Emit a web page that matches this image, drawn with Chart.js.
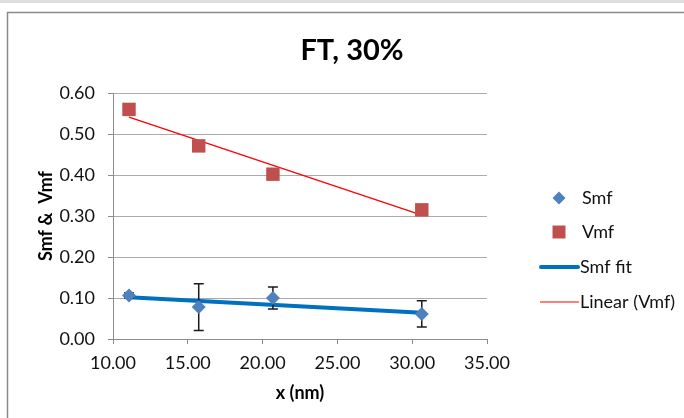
<!DOCTYPE html>
<html>
<head>
<meta charset="utf-8">
<script src="https://cdn.jsdelivr.net/npm/chart.js@4/dist/chart.umd.min.js"></script>
<style>
  html, body { margin: 0; padding: 0; background: #ffffff; }
  #wrap { width: 684px; height: 418px; position: relative; }
</style>
</head>
<body>
<div id="wrap"><canvas id="c" width="684" height="418"></canvas></div>
<script>
// Film thickness x (nm) and measured fractions
const xValues = [11.07, 15.73, 20.69, 30.64];
const smfValues = [0.106, 0.078, 0.100, 0.061];
const smfErrors = [0.006, 0.057, 0.027, 0.032];
const vmfValues = [0.560, 0.471, 0.402, 0.315];

// Straight-line fits, evaluated at the first and last x
const fitX = [11.07, 30.64];
const smfFitValues = [0.102, 0.064];
const vmfFitValues = [0.541, 0.302];

const xTicks = [10, 15, 20, 25, 30, 35];
const yTicks = [0, 0.1, 0.2, 0.3, 0.4, 0.5, 0.6];

const titleText = 'FT, 30%';
const xTitle = 'x (nm)';
const yTitle = 'Smf &  Vmf';
const seriesNames = ['Smf', 'Vmf', 'Smf fit', 'Linear (Vmf)'];

const BLUE = '#4F81BD';
const RED = '#C0504D';
const FIT_BLUE = '#0070C0';
const FIT_RED = '#FF0000';
const GRID = '#ababab';
const AXIS = '#8c8c8c';

Chart.defaults.font.family = 'Lato, "Open Sans", sans-serif';
Chart.defaults.color = '#111111';

const pts = (xs, ys) => xs.map((x, i) => ({ x, y: ys[i] }));

// Frame and grey strip around the chart
const framePlugin = {
  id: 'frame',
  beforeDraw(chart) {
    const ctx = chart.ctx;
    ctx.save();
    ctx.fillStyle = '#ffffff';
    ctx.fillRect(0, 0, chart.width, chart.height);
    ctx.fillStyle = '#dedede';
    ctx.fillRect(0, 0, chart.width, 3);
    ctx.strokeStyle = '#8a8a8a';
    ctx.lineWidth = 1.5;
    ctx.beginPath();
    ctx.moveTo(7.5, chart.height + 2);
    ctx.lineTo(7.5, 12.5);
    ctx.lineTo(chart.width + 2, 12.5);
    ctx.stroke();
    ctx.restore();
  }
};

// Vertical error bars on the Smf series, drawn just under its markers
const errorBarPlugin = {
  id: 'errorBars',
  beforeDatasetDraw(chart, args) {
    if (args.index !== 0) return;
    const ctx = chart.ctx;
    const xs = chart.scales.x, ys = chart.scales.y;
    ctx.save();
    ctx.strokeStyle = '#1a1a1a';
    ctx.lineWidth = 1.5;
    xValues.forEach((xv, i) => {
      const px = xs.getPixelForValue(xv);
      const top = ys.getPixelForValue(smfValues[i] + smfErrors[i]);
      const bot = ys.getPixelForValue(smfValues[i] - smfErrors[i]);
      ctx.beginPath();
      ctx.moveTo(px, top); ctx.lineTo(px, bot);
      ctx.moveTo(px - 5, top); ctx.lineTo(px + 5, top);
      ctx.moveTo(px - 5, bot); ctx.lineTo(px + 5, bot);
      ctx.stroke();
    });
    ctx.restore();
  }
};

// Chart title and the legend on the right
const textPlugin = {
  id: 'texts',
  afterDraw(chart) {
    const ctx = chart.ctx;
    ctx.save();
    ctx.fillStyle = '#000000';
    ctx.font = 'bold 29px Lato, sans-serif';
    ctx.textAlign = 'center';
    ctx.textBaseline = 'alphabetic';
    ctx.fillText(titleText, 352, 60);

    const lx = 559, tx = 582;
    const rows = [198, 232, 267, 302];
    ctx.font = '18px Lato, sans-serif';
    ctx.textAlign = 'left';
    ctx.textBaseline = 'middle';
    // Smf marker
    ctx.fillStyle = BLUE;
    ctx.beginPath();
    ctx.moveTo(lx, rows[0] - 6.5); ctx.lineTo(lx + 6.5, rows[0]);
    ctx.lineTo(lx, rows[0] + 6.5); ctx.lineTo(lx - 6.5, rows[0]);
    ctx.closePath(); ctx.fill();
    // Vmf marker
    ctx.fillStyle = RED;
    ctx.fillRect(lx - 6.5, rows[1] - 6.5, 13, 13);
    // fit lines
    ctx.strokeStyle = FIT_BLUE; ctx.lineWidth = 4; ctx.lineCap = 'round';
    ctx.beginPath(); ctx.moveTo(541, rows[2]); ctx.lineTo(578, rows[2]); ctx.stroke();
    ctx.strokeStyle = '#ff5555'; ctx.lineWidth = 1.5; ctx.lineCap = 'butt';
    ctx.beginPath(); ctx.moveTo(540, rows[3]); ctx.lineTo(579, rows[3]); ctx.stroke();

    ctx.fillStyle = '#111111';
    ctx.fillText(seriesNames[0], tx, rows[0]);
    ctx.fillText(seriesNames[1], tx, rows[1]);
    ctx.fillText(seriesNames[2], 580, rows[2]);
    ctx.fillText(seriesNames[3], 580, rows[3]);
    ctx.restore();
  }
};

new Chart(document.getElementById('c'), {
  type: 'scatter',
  data: {
    datasets: [
      {
        label: seriesNames[0],
        data: pts(xValues, smfValues),
        pointStyle: 'rectRot',
        pointRadius: 7,
        pointHoverRadius: 7,
        backgroundColor: BLUE,
        borderColor: BLUE,
        borderWidth: 0,
        showLine: false
      },
      {
        label: seriesNames[1],
        data: pts(xValues, vmfValues),
        pointStyle: 'rect',
        pointRadius: 9.5,
        pointHoverRadius: 9.5,
        backgroundColor: RED,
        borderColor: RED,
        borderWidth: 0,
        showLine: false
      },
      {
        label: seriesNames[2],
        data: pts(fitX, smfFitValues),
        showLine: true,
        borderColor: FIT_BLUE,
        borderWidth: 4,
        pointRadius: 0,
        pointHoverRadius: 0
      },
      {
        label: seriesNames[3],
        data: pts(fitX, vmfFitValues),
        showLine: true,
        borderColor: FIT_RED,
        borderWidth: 1.3,
        pointRadius: 0,
        pointHoverRadius: 0
      }
    ]
  },
  options: {
    responsive: false,
    animation: false,
    events: [],
    layout: { padding: { left: 35, top: 93, right: 197, bottom: 14 } },
    plugins: {
      legend: { display: false },
      title: { display: false },
      tooltip: { enabled: false }
    },
    scales: {
      x: {
        type: 'linear',
        min: xTicks[0],
        max: xTicks[xTicks.length - 1],
        afterFit(scale) { scale.height = 65; },
        afterBuildTicks(scale) { scale.ticks = xTicks.map(v => ({ value: v })); },
        ticks: {
          padding: 8,
          font: { size: 18 },
          color: '#111111',
          callback: v => Number(v).toFixed(2)
        },
        grid: { drawOnChartArea: false, drawTicks: true, tickLength: 5, color: AXIS, lineWidth: 1 },
        border: { color: AXIS, width: 1 },
        title: { display: true, text: xTitle, font: { size: 18, weight: 'bold' }, color: '#000', padding: { top: 0, bottom: 0 } }
      },
      y: {
        type: 'linear',
        min: yTicks[0],
        max: yTicks[yTicks.length - 1],
        afterFit(scale) { scale.width = 78; },
        afterBuildTicks(scale) { scale.ticks = yTicks.map(v => ({ value: v })); },
        ticks: {
          padding: 13,
          font: { size: 18 },
          color: '#111111',
          callback: v => Number(v).toFixed(2)
        },
        grid: { color: GRID, lineWidth: 1, tickLength: 5, tickColor: AXIS },
        border: { color: AXIS, width: 1 },
        title: { display: true, text: yTitle, font: { size: 18, weight: 'bold' }, color: '#000', padding: { top: 0, bottom: 0 } }
      }
    }
  },
  plugins: [framePlugin, errorBarPlugin, textPlugin]
});
</script>
</body>
</html>
